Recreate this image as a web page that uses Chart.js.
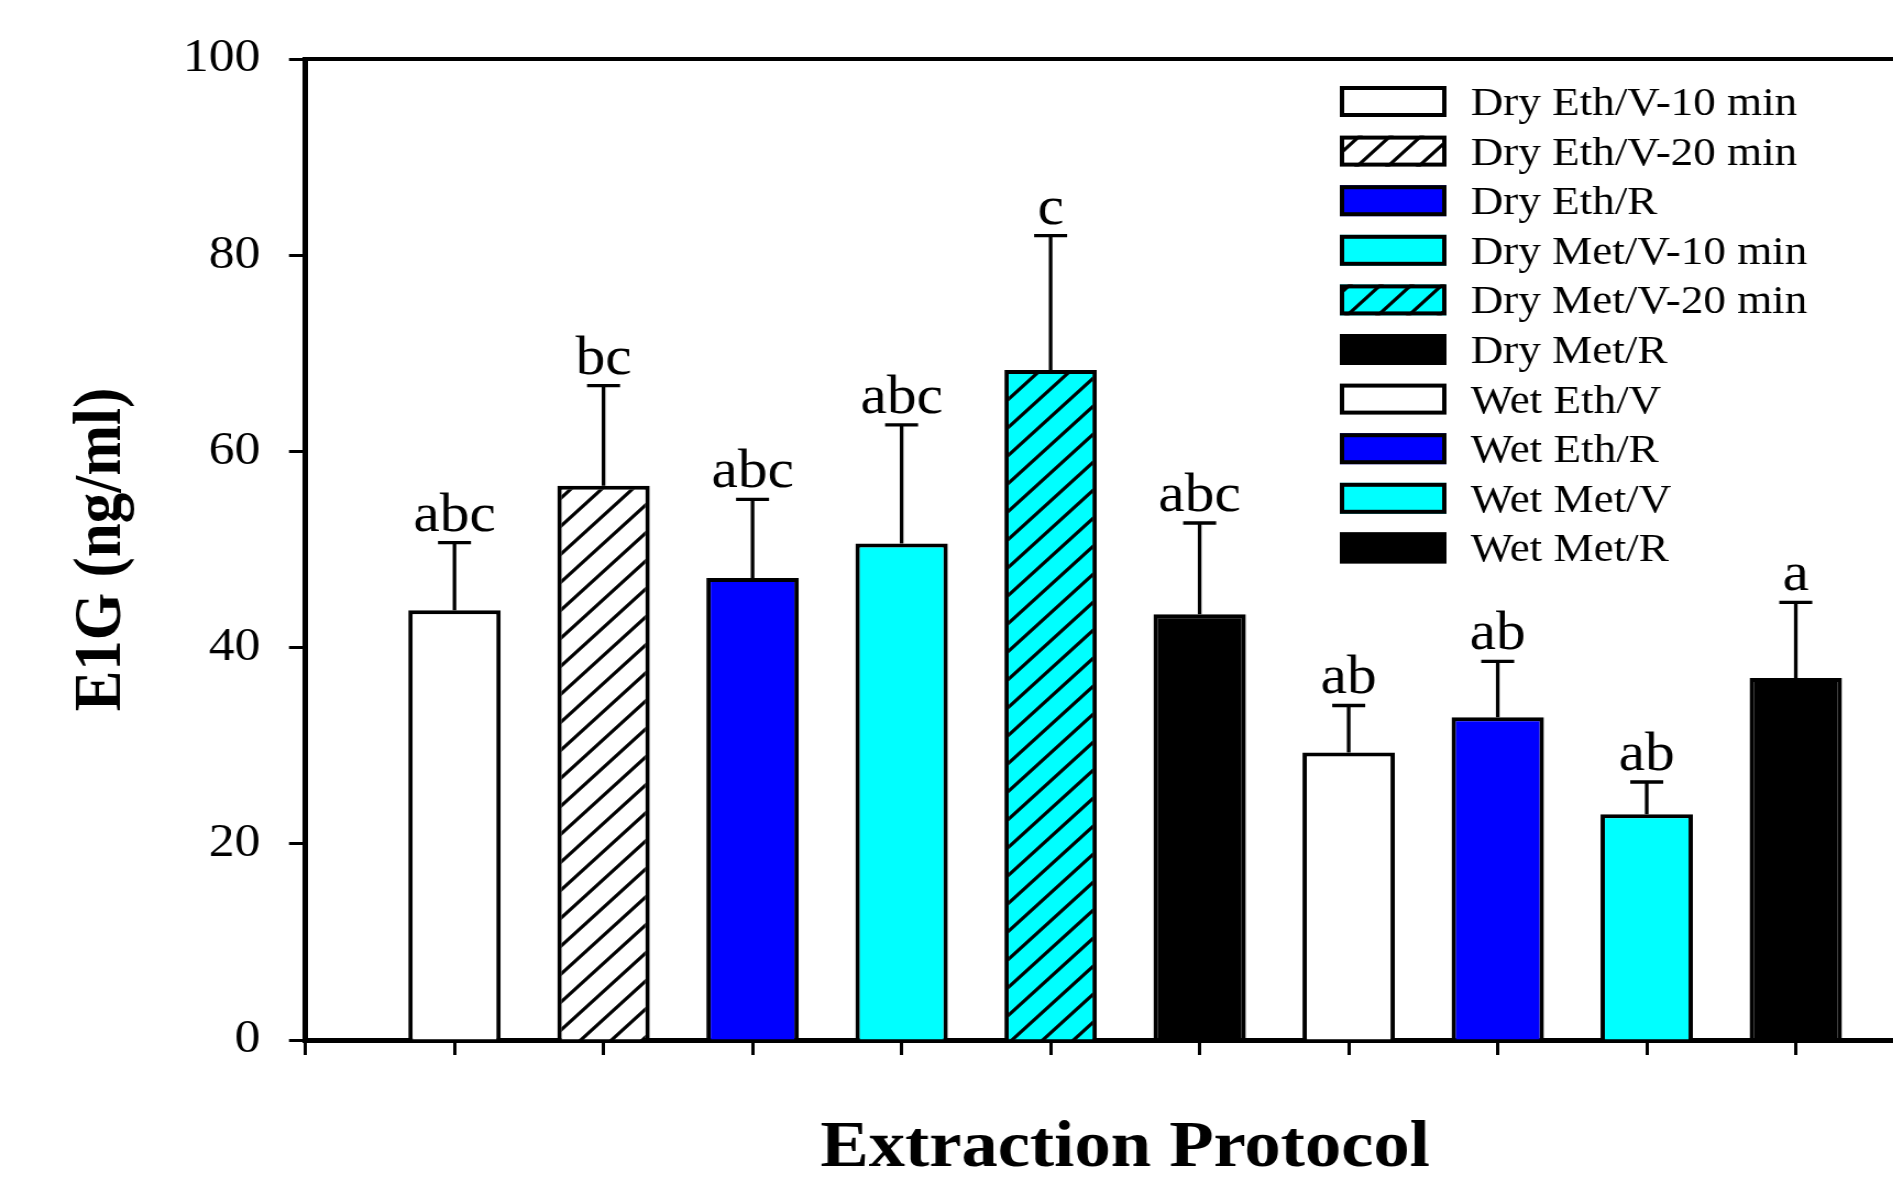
<!DOCTYPE html>
<html>
<head>
<meta charset="utf-8">
<script src="https://cdn.jsdelivr.net/npm/chart.js@4"></script>
<style>
  html, body { margin: 0; padding: 0; overflow: hidden; background: #fff; }
  /* the reference is a bit wider than tall, so stretch the canvas sideways */
  #chart { transform: scaleX(1.1); transform-origin: 0 0; }
</style>
</head>
<body>
<canvas id="chart" width="1790" height="1191"></canvas>
<script>
const categories = [
  "Dry Eth/V-10 min", "Dry Eth/V-20 min", "Dry Eth/R", "Dry Met/V-10 min", "Dry Met/V-20 min",
  "Dry Met/R", "Wet Eth/V", "Wet Eth/R", "Wet Met/V", "Wet Met/R"
];
const means = [43.8, 56.5, 47.1, 50.6, 68.3, 43.4, 29.3, 32.9, 23.0, 36.9];
const sem = [6.9, 10.2, 8.0, 12.1, 13.7, 9.3, 4.8, 5.7, 3.3, 7.7];
const letters = ["abc", "bc", "abc", "abc", "c", "abc", "ab", "ab", "ab", "a"];
const yTicks = [0, 20, 40, 60, 80, 100];

// styling per bar
const baseColor = ["#ffffff", "#ffffff", "#0000ff", "#00ffff", "#00ffff", "#000000", "#ffffff", "#0000ff", "#00ffff", "#000000"];
const hatched = [false, true, false, false, true, false, false, false, false, false];

const canvas = document.getElementById("chart");
const ctx = canvas.getContext("2d");

Chart.defaults.font.family = '"Liberation Serif", "Times New Roman", serif';
Chart.defaults.color = "#000";

const makeHatch = (bg) => {
  const tile = document.createElement("canvas");
  tile.width = 28;
  tile.height = 28;
  const g = tile.getContext("2d");
  g.fillStyle = bg;
  g.fillRect(0, 0, 28, 28);
  g.strokeStyle = "#000";
  g.lineWidth = 3.2;
  g.beginPath();
  g.moveTo(-4, 32); g.lineTo(32, -4);
  g.moveTo(-4, 4); g.lineTo(4, -4);
  g.moveTo(24, 32); g.lineTo(32, 24);
  g.stroke();
  return ctx.createPattern(tile, "repeat");
};

const fills = baseColor.map((c, i) => hatched[i] ? makeHatch(c) : c);

// legend box layout (inside the plot, top right)
const legendBox = { x: 1218, y: 86, w: 97, h: 31, step: 49.6, textX: 1337, base: 29 };

const extras = {
  id: "extras",
  afterDatasetsDraw(chart) {
    const c = chart.ctx;
    const y = chart.scales.y;
    const bars = chart.getDatasetMeta(0).data;
    c.save();
    c.strokeStyle = "#000";
    c.fillStyle = "#000";
    c.lineWidth = 3.3;
    c.font = '54px "Liberation Serif"';
    c.textAlign = "center";
    c.textBaseline = "alphabetic";
    bars.forEach((bar, i) => {
      const top = y.getPixelForValue(means[i] + sem[i]);
      c.beginPath();
      c.moveTo(bar.x, bar.y);
      c.lineTo(bar.x, top);
      c.moveTo(bar.x - 15, top);
      c.lineTo(bar.x + 15, top);
      c.stroke();
      c.fillText(letters[i], bar.x, top - 12);
    });
    c.restore();
  },
  afterDraw(chart) {
    const c = chart.ctx;
    const L = legendBox;
    c.save();
    c.font = '41px "Liberation Serif"';
    c.textAlign = "left";
    c.textBaseline = "alphabetic";
    categories.forEach((name, i) => {
      const top = L.y + i * L.step;
      c.fillStyle = fills[i];
      c.fillRect(L.x, top, L.w, L.h);
      c.strokeStyle = "#000";
      c.lineWidth = 4;
      c.strokeRect(L.x + 2, top + 2, L.w - 4, L.h - 4);
      c.fillStyle = "#000";
      c.fillText(name, L.textX, top + L.base);
    });
    c.restore();
  }
};

new Chart(ctx, {
  type: "bar",
  data: {
    datasets: [{
      data: categories.map((name, i) => ({ x: i + 1, y: means[i] })),
      backgroundColor: fills,
      borderColor: "#000",
      borderWidth: 4,
      barPercentage: 0.62,
      categoryPercentage: 1
    }]
  },
  options: {
    responsive: false,
    animation: false,
    devicePixelRatio: 1,
    layout: { padding: { top: 59, right: 22, bottom: 0, left: 0 } },
    plugins: {
      legend: { display: false },
      tooltip: { enabled: false }
    },
    scales: {
      x: {
        type: "linear",
        position: "bottom",
        min: 0,
        max: categories.length + 1,
        offset: false,
        grid: { offset: false, drawOnChartArea: false, drawTicks: true, tickLength: 15, tickWidth: 3, tickColor: "#000" },
        border: { display: true, color: "#000", width: 5 },
        ticks: { stepSize: 1, display: false },
        title: {
          display: true,
          text: "Extraction Protocol",
          color: "#000",
          font: { size: 66, weight: "bold" },
          padding: { top: 0, bottom: 2 }
        },
        afterFit: (s) => { s.height = 151; }
      },
      xTop: {
        type: "linear",
        position: "top",
        min: 0,
        max: categories.length + 1,
        grid: { display: false },
        ticks: { display: false },
        border: { display: true, color: "#000", width: 4 },
        afterFit: (s) => { s.height = 0; }
      },
      y: {
        min: 0,
        max: 100,
        afterBuildTicks: (s) => { s.ticks = yTicks.map(v => ({ value: v })); },
        ticks: { padding: 26, color: "#000", font: { size: 47 } },
        grid: { drawOnChartArea: false, tickLength: 15, tickWidth: 3, tickColor: "#000" },
        border: { display: true, color: "#000", width: 5 },
        title: {
          display: true,
          text: "E1G (ng/ml)",
          color: "#000",
          font: { size: 61, weight: "bold" },
          padding: { top: 57, bottom: 0 }
        },
        afterFit: (s) => { s.width = 277.7; }
      }
    }
  },
  plugins: [extras]
});
</script>
</body>
</html>
